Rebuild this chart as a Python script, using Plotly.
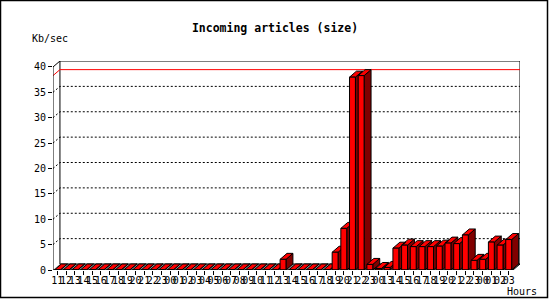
import plotly.graph_objects as go

# ---- data ----
hours = ([f"{h:02d}" for h in range(11, 24)] + [f"{h:02d}" for h in range(0, 24)]
         + ["00"] + [f"{h:02d}" for h in range(13, 24)] + ["00", "01", "02", "03"])
day1 = [0.0] * 13
day2 = [0.0] * 13 + [2.1, 0.0, 0.0, 0.0, 0.0, 0.0, 3.5, 8.2, 38.0, 38.3, 1.1]
day3 = [0.3, 0.5, 4.3, 4.9, 4.6, 4.6, 4.6, 4.7, 5.3, 5.2, 6.9, 1.9]
day4 = [2.1, 5.5, 4.9, 6.0]
kbps = day1 + day2 + day3 + day4
ytick_vals = [0, 5, 10, 15, 20, 25, 30, 35, 40]
title = "Incoming articles (size)"
ylabel = "Kb/sec"
xlabel = "Hours"

# ---- style constants ----
N = len(kbps)
W = 0.68          # front face width (category units)
DX = 0.8          # depth offset in x (category units)
DY = 1.18         # depth offset in y (value units)
YTOP = 40
XL, XR = -0.5, N - 0.5
RED, DARK, GRAY = "#ff0000", "#800000", "#8c8c8c"
FONT = "DejaVu Sans Mono"

def polys(builder):
    xs, ys = [], []
    for i, v in enumerate(kbps):
        px, py = builder(i, v)
        xs += px + [px[0], None]
        ys += py + [py[0], None]
    return xs, ys

side = polys(lambda i, v: ([i + W/2, i + W/2 + DX, i + W/2 + DX, i + W/2],
                           [0, DY, v + DY, v]))
top = polys(lambda i, v: ([i - W/2, i + W/2, i + W/2 + DX, i - W/2 + DX],
                          [v, v, v + DY, v + DY]))
front = polys(lambda i, v: ([i - W/2, i + W/2, i + W/2, i - W/2],
                            [0, 0, v, v]))

fig = go.Figure()
for (xs, ys), col in ((side, DARK), (top, RED), (front, RED)):
    fig.add_trace(go.Scatter(x=xs, y=ys, mode="lines", fill="toself", fillcolor=col,
                             line=dict(color="black", width=1), hoverinfo="skip",
                             showlegend=False, connectgaps=False))

shapes = []
# floor
shapes.append(dict(type="path", layer="below", line=dict(width=0), fillcolor=GRAY,
                   path=f"M{XL},0 L{XR},0 L{XR+DX},{DY} L{XL+DX},{DY} Z"))
# back wall
shapes.append(dict(type="path", layer="below", line=dict(color="black", width=1),
                   path=f"M{XL+DX},{DY} L{XL+DX},{YTOP+DY} L{XR+DX},{YTOP+DY} L{XR+DX},{DY}"))
shapes.append(dict(type="path", layer="below", line=dict(color="black", width=1),
                   path=f"M{XL+DX},{DY} L{XR+DX},{DY}"))
# grid lines
for v in ytick_vals[1:-1]:
    shapes.append(dict(type="path", layer="below", line=dict(color="black", width=1, dash="2px,2px"),
                       path=f"M{XL},{v} L{XL+DX},{v+DY} L{XR+DX},{v+DY}"))
# max line
m = max(kbps)
shapes.append(dict(type="path", layer="below", line=dict(color=RED, width=1),
                   path=f"M{XL},{m} L{XL+DX},{m+DY} L{XR+DX},{m+DY}"))
# front axes
shapes.append(dict(type="path", layer="above", line=dict(color="black", width=1),
                   path=f"M{XL+DX},{YTOP+DY} L{XL},{YTOP} L{XL},0 L{XR},0 L{XR+DX},{DY}"))
# outer frame
L, R, T, B = 53, 30, 61, 30
PW, PH = 550 - L - R, 300 - T - B
def px(x): return (x - L) / PW
def py(y): return (300 - B - y) / PH
shapes.append(dict(type="rect", xref="paper", yref="paper", layer="above",
                   x0=px(0.5), x1=px(547.5), y0=py(0.5), y1=py(297.5),
                   line=dict(color="black", width=1.5), fillcolor="rgba(0,0,0,0)"))

fig.update_layout(
    width=550, height=300, margin=dict(l=L, r=R, t=T, b=B),
    paper_bgcolor="white", plot_bgcolor="white", showlegend=False,
    shapes=shapes,
    font=dict(family=FONT, size=10, color="black"),
    title=dict(text=f"<b>{title}</b>", x=0.5, xanchor="center", y=1 - 28/300, yanchor="middle",
               font=dict(family=FONT, size=11.5, color="black")),
    xaxis=dict(range=[XL, XR + DX], showgrid=False, zeroline=False, showline=False,
               tickmode="array", tickvals=list(range(N)), ticktext=hours, tickangle=0,
               ticks="outside", ticklen=4, tickcolor="black", tickfont=dict(size=10),
               ticklabelstandoff=-3, fixedrange=True),
    yaxis=dict(range=[0, YTOP + DY], showgrid=False, zeroline=False, showline=False,
               tickmode="array", tickvals=ytick_vals, ticks="outside", ticklen=4,
               tickcolor="black", tickfont=dict(size=10), fixedrange=True),
    annotations=[
        dict(text=ylabel, xref="paper", yref="paper", x=px(30), y=py(38.5), xanchor="left",
             yanchor="middle", showarrow=False, font=dict(size=10)),
        dict(text=xlabel, xref="paper", yref="paper", x=px(505), y=py(291.5), xanchor="left",
             yanchor="middle", showarrow=False, font=dict(size=10)),
    ],
)
fig.write_html("out.html")
